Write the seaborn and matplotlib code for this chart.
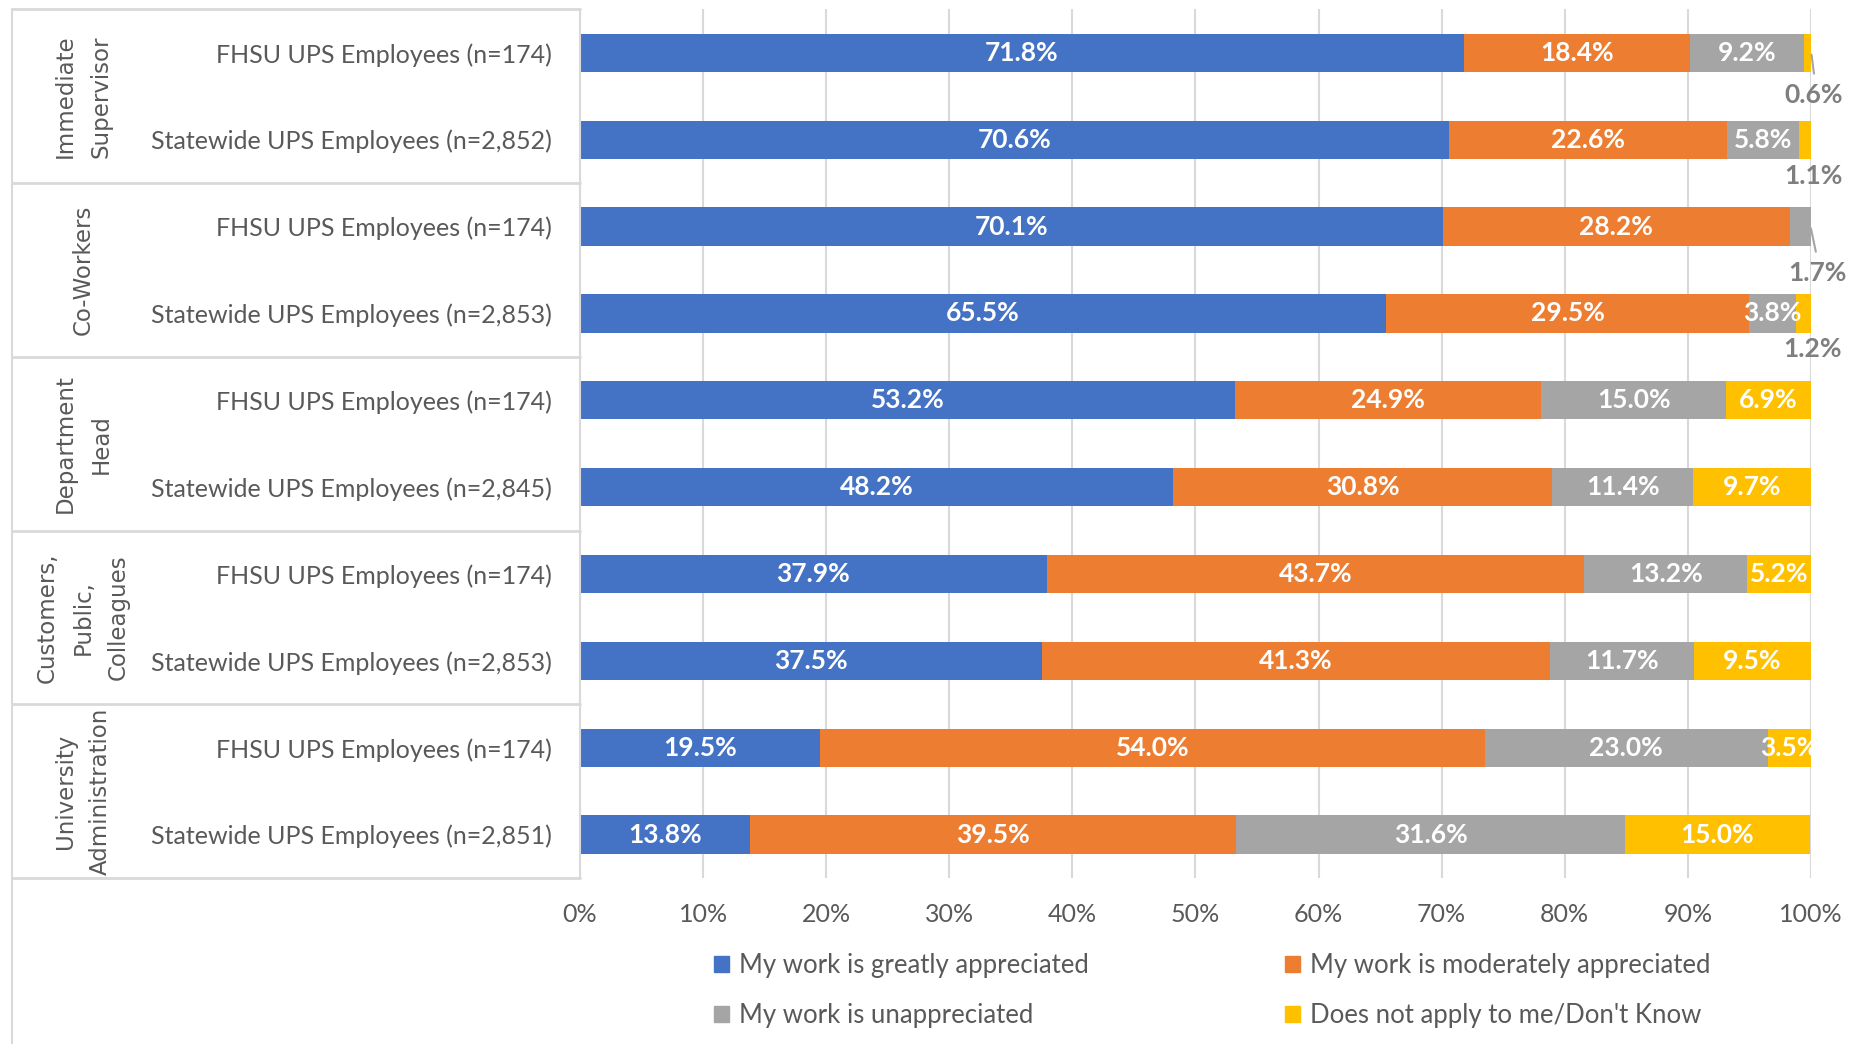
import numpy as np
import pandas as pd
import matplotlib
matplotlib.use("Agg")
import matplotlib.pyplot as plt
import matplotlib.transforms as mtransforms
from matplotlib.lines import Line2D
from matplotlib.patches import Patch
import seaborn as sns

# ---------------- data ----------------
groups = ["Immediate\nSupervisor", "Co-Workers", "Department\nHead",
          "Customers,\nPublic,\nColleagues", "University\nAdministration"]
row_labels = [
    "FHSU UPS Employees (n=174)", "Statewide UPS Employees (n=2,852)",
    "FHSU UPS Employees (n=174)", "Statewide UPS Employees (n=2,853)",
    "FHSU UPS Employees (n=174)", "Statewide UPS Employees (n=2,845)",
    "FHSU UPS Employees (n=174)", "Statewide UPS Employees (n=2,853)",
    "FHSU UPS Employees (n=174)", "Statewide UPS Employees (n=2,851)",
]
series_names = ["My work is greatly appreciated", "My work is moderately appreciated",
                "My work is unappreciated", "Does not apply to me/Don't Know"]
greatly = [71.8, 70.6, 70.1, 65.5, 53.2, 48.2, 37.9, 37.5, 19.5, 13.8]
moderately = [18.4, 22.6, 28.2, 29.5, 24.9, 30.8, 43.7, 41.3, 54.0, 39.5]
unappreciated = [9.2, 5.8, 1.7, 3.8, 15.0, 11.4, 13.2, 11.7, 23.0, 31.6]
not_apply = [0.6, 1.1, 0.0, 1.2, 6.9, 9.7, 5.2, 9.5, 3.5, 15.0]
x_ticks = [0, 10, 20, 30, 40, 50, 60, 70, 80, 90, 100]

colors = ["#4472C4", "#ED7D31", "#A5A5A5", "#FFC000"]
TXT = "#595959"
LINE = "#D9D9D9"

# ---------------- figure ----------------
sns.set_theme(style="white")
plt.rcParams["font.family"] = ["Lato", "DejaVu Sans"]

fig = plt.figure(figsize=(18.65, 10.44), dpi=100)
ax = fig.add_axes([0.311, 0.159, 0.660, 0.832])

row_ids = [f"r{i}" for i in range(len(row_labels))]
vals = np.array([greatly, moderately, unappreciated, not_apply])
cum = np.cumsum(vals, axis=0)
df = pd.DataFrame({"row": row_ids})
for k in range(4):
    df[f"cum{k}"] = cum[k]

for k in reversed(range(4)):
    sns.barplot(data=df, y="row", x=f"cum{k}", orient="h", order=row_ids,
                color=colors[k], saturation=1, width=0.44, linewidth=0,
                errorbar=None, ax=ax)

ax.set_xlim(0, 100)
ax.set_ylim(9.5, -0.5)
ax.set_xticks(x_ticks)
ax.set_xticklabels([f"{t}%" for t in x_ticks])
ax.set_yticks(range(len(row_ids)))
ax.set_yticklabels(row_labels)
ax.set_xlabel("")
ax.set_ylabel("")
ax.tick_params(axis="x", length=0, pad=18, labelsize=18, labelcolor=TXT)
ax.tick_params(axis="y", length=0, pad=20, labelsize=18, labelcolor=TXT)
ax.xaxis.grid(True, color=LINE, linewidth=1.5)
ax.yaxis.grid(False)
ax.set_axisbelow(True)
for s in ["top", "right", "bottom"]:
    ax.spines[s].set_visible(False)
ax.spines["left"].set_color(LINE)
ax.spines["left"].set_linewidth(1.5)

# data labels
outside_offsets = {0: (100.2, 0.49), 1: (100.2, 0.42), 2: (100.5, 0.53), 3: (100.1, 0.41)}
leaders = {0: ((100.05, 100.25), (0.02, 0.24)), 2: ((100.0, 100.4), (0.02, 0.29))}
for k in range(4):
    for r in range(len(row_ids)):
        v = vals[k, r]
        if v <= 0:
            continue
        start = cum[k, r] - v
        if v < 2.5:
            ox, oy = outside_offsets[r]
            ax.text(ox, r + oy, f"{v:.1f}%", ha="center", va="center",
                    fontsize=19, fontweight="bold", color="#7F7F7F", clip_on=False)
            if r in leaders:
                lx, ly = leaders[r]
                ax.plot(lx, (r + ly[0], r + ly[1]), color="#A5A5A5", lw=1.5,
                        clip_on=False)
        else:
            ax.text(start + v / 2, r, f"{v:.1f}%", ha="center", va="center",
                    fontsize=19, fontweight="bold", color="white", clip_on=True)

# left "table" with group labels
blend = mtransforms.blended_transform_factory(fig.transFigure, ax.transData)
x0 = 0.0062
x1 = 0.311
for b in [-0.5, 1.5, 3.5, 5.5, 7.5, 9.5]:
    fig.add_artist(Line2D([x0, x1], [b, b], transform=blend, color=LINE, lw=2))
fig.add_artist(Line2D([x0, x0], [0.0, 0.991], transform=fig.transFigure,
                      color=LINE, lw=1.5))
for g, name in enumerate(groups):
    ax.text(0.0445, 2 * g + 0.5, name, transform=blend, rotation=90,
            ha="center", va="center", fontsize=16.5, color=TXT,
            family=["DejaVu Sans"], linespacing=1.7, multialignment="center",
            clip_on=False)

# legend (row-wise order)
handles = [Patch(color=c) for c in colors]
order = [0, 2, 1, 3]
leg = fig.legend([handles[i] for i in order], [series_names[i] for i in order],
                 loc="upper left", bbox_to_anchor=(0.3758, 0.0995), ncol=2,
                 frameon=False, fontsize=18.5, handlelength=0.6, handleheight=0.6,
                 handletextpad=0.4, columnspacing=7.6, labelspacing=0.98,
                 borderpad=0)
for t in leg.get_texts():
    t.set_color(TXT)

fig.savefig("out.png", dpi=100)
